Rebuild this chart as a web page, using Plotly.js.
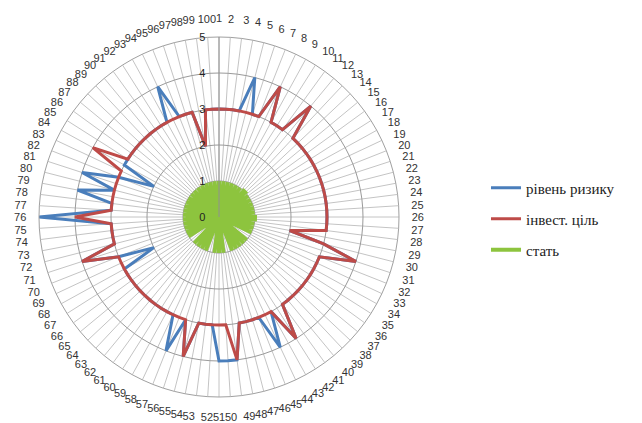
<!DOCTYPE html>
<html><head><meta charset="utf-8">
<script src="https://cdn.plot.ly/plotly-3.0.1.min.js"></script>
<style>html,body{margin:0;padding:0;background:#fff}</style>
</head><body><div id="chart" style="width:642px;height:423px"></div>
<script>
const categories = ["1","2","3","4","5","6","7","8","9","10","11","12","13","14","15","16","17","18","19","20",
"21","22","23","24","25","26","27","28","29","30","31","32","33","34","35","36","37","38","39","40",
"41","42","43","44","45","46","47","48","49","50","51","52","53","54","55","56","57","58","59","60",
"61","62","63","64","65","66","67","68","69","70","71","72","73","74","75","76","77","78","79","80",
"81","82","83","84","85","86","87","88","89","90","91","92","93","94","95","96","97","98","99","100"];

const seriesNames = ["рівень ризику", "інвест. ціль", "стать"];

const riskLevel = [3,3,3,3,4,3,3,4,3,3, 3,4,3,3,3,3,3,3,3,3,
                   3,3,3,3,3,3,3,3,2,3, 4,3,3,3,3,3,3,3,3,3,
                   3,4,3,4,3,3,3,3,4,4, 4,3,3,3,4,3,4,3,3,3,
                   3,3,3,3,3,3,3,3,2,3, 4,3,3,3,3,5,3,3,4,3,
                   4,3,2,3,3,3,3,3,3,3, 3,3,3,4,3,3,3,2,3,3];

const investGoal = [3,3,3,3,3,3,3,4,3,3, 3,4,3,3,3,3,3,3,3,3,
                    3,3,3,3,3,3,3,3,2,3, 4,3,3,3,3,3,3,3,3,3,
                    3,4,3,3,3,3,3,3,4,3, 3,3,3,3,4,3,3,3,3,3,
                    3,3,3,3,3,3,3,3,3,3, 4,3,3,3,3,4,3,3,3,3,
                    3,3,3,4,3,3,3,3,3,3, 3,3,3,3,3,3,3,2,3,3];

const gender = [1,0,1,0,1,0,1,0,1,0, 1,0,1,1,0,1,0,1,0,1,
                0,1,0,1,0,1,1,0,1,0, 1,0,1,0,0,0,1,0,1,0,
                1,0,1,0,1,0,0,0,1,0, 1,0,1,0,0,0,1,0,1,0,
                1,0,1,0,0,0,1,0,1,0, 1,0,1,0,1,0,1,0,1,0,
                1,0,1,0,1,0,1,0,1,0, 1,0,1,0,1,0,1,0,1,0];

const radialTicks = [0,1,2,3,4,5];
const radialTickText = ["0\u00a0\u00a0\u00a0", "1\u00a0\u00a0\u00a0", "2\u00a0\u00a0\u00a0", "3\u00a0\u00a0\u00a0", "4\u00a0\u00a0\u00a0", "5\u00a0\u00a0\u00a0"];
const colors = ["#4a7ebb", "#be4b48", "#8dc43e"];
const widths = [3, 3, 4];

function closed(arr){ return arr.concat([arr[0]]); }

const seriesData = [riskLevel, investGoal, gender];
const legendIds = ["legend", "legend2", "legend3"];
const traces = seriesData.map((vals, i) => ({
  type: "scatterpolar",
  mode: "lines",
  r: closed(vals),
  theta: closed(categories),
  name: seriesNames[i],
  legend: legendIds[i],
  line: {color: colors[i], width: widths[i]},
  hoverinfo: "skip"
}));

const serif = "Liberation Serif";
const legFont = {family: serif, size: 15, color: "#222"};
function leg(ypx){
  return {x: 0.757, y: 1 - ypx/423, xanchor: "left", yanchor: "middle", font: legFont,
          bgcolor: "rgba(0,0,0,0)", itemwidth: 30};
}
const layout = {
  width: 642, height: 423,
  margin: {l: 0, r: 0, t: 0, b: 0},
  paper_bgcolor: "#fff",
  font: {family: serif, size: 15, color: "#222"},
  showlegend: true,
  legend: leg(188), legend2: leg(219), legend3: leg(250),
  polar: {
    domain: {x: [39/642, 399/642], y: [1 - 397/423, 1 - 37/423]},
    bgcolor: "rgba(0,0,0,0)",
    gridshape: "linear",
    angularaxis: {
      type: "category", categoryarray: categories, direction: "clockwise", rotation: 90,
      showgrid: true, gridcolor: "#c4c4c4", gridwidth: 1,
      showline: true, linecolor: "#a0a0a0", linewidth: 1,
      ticks: "outside", ticklen: 10, tickcolor: "rgba(0,0,0,0)",
      tickfont: {family: "Liberation Sans", size: 11, color: "#333"}
    },
    radialaxis: {
      range: [0, 5], tickvals: radialTicks, ticktext: radialTickText,
      angle: 90, side: "counterclockwise", tickangle: 90,
      showline: true, linecolor: "#909090", linewidth: 1,
      showgrid: true, gridcolor: "#9a9a9a", gridwidth: 1,
      ticks: "", 
      tickfont: {family: "Liberation Sans", size: 11, color: "#222"}
    }
  }
};

Plotly.newPlot("chart", traces, layout, {displayModeBar: false, staticPlot: true});
</script>
</body></html>
